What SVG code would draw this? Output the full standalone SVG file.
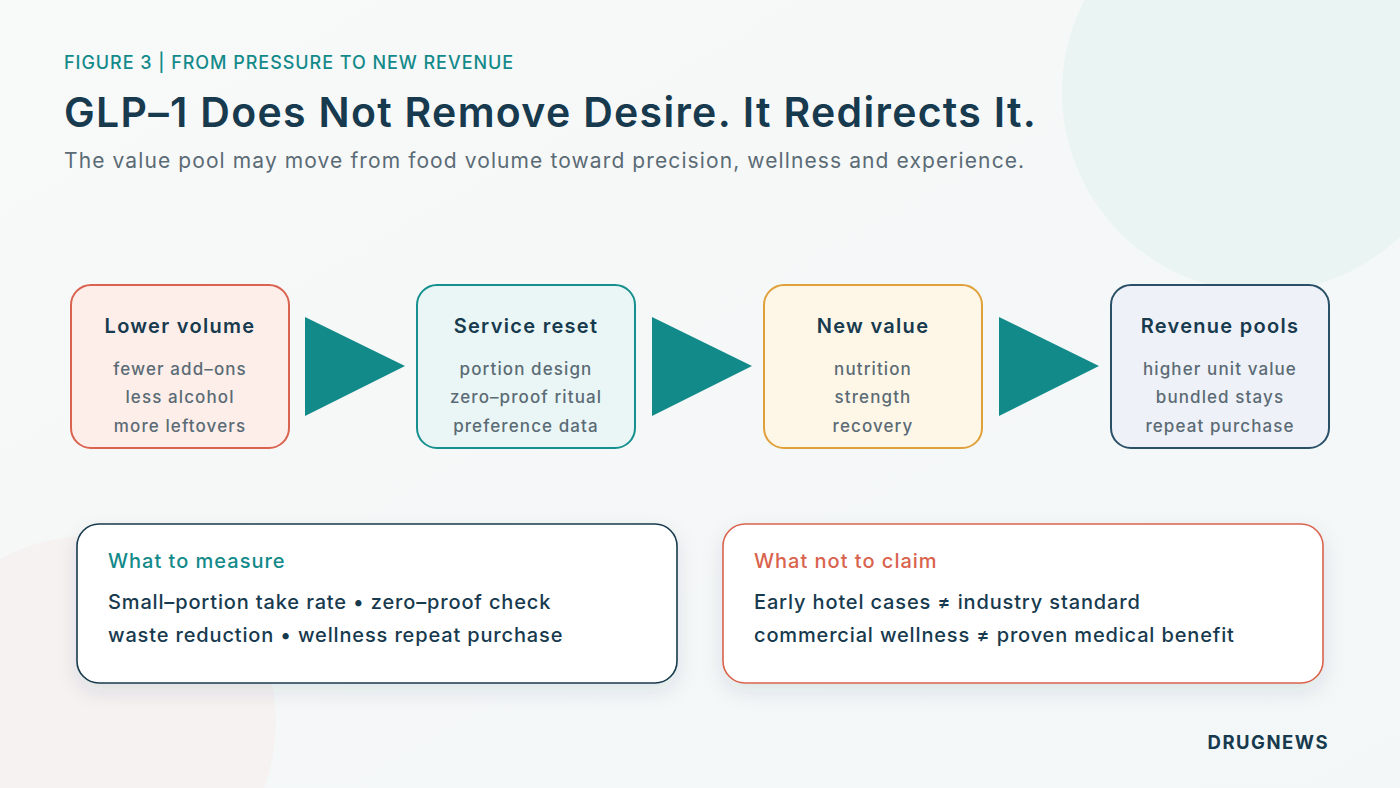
<svg xmlns="http://www.w3.org/2000/svg" width="1400" height="788" viewBox="0 0 1400 788">
<defs>
<linearGradient id="bg" x1="0" y1="0" x2="1" y2="1">
<stop offset="0" stop-color="#f8f9f9"/>
<stop offset="1" stop-color="#f3f7f7"/>
</linearGradient>
<filter id="sh" x="-10%" y="-20%" width="120%" height="150%">
<feDropShadow dx="0" dy="8" stdDeviation="10" flood-color="#1b3a4b" flood-opacity="0.10"/>
</filter>
<style>
.t{font-family:Inter,"Noto Sans","Liberation Sans",sans-serif}
.nt{font-size:20px;font-weight:600;fill:#173a4e;text-anchor:middle;letter-spacing:1.3px}
.ni{font-size:17px;font-weight:500;fill:#5b6b75;text-anchor:middle;letter-spacing:1.1px}
.bt{font-size:20px;font-weight:500;letter-spacing:1px}
.bl{font-size:20px;font-weight:500;fill:#173a4e;letter-spacing:0.85px}
.arr{fill:#128a8a}
</style>
</defs>
<rect width="1400" height="788" fill="url(#bg)"/>
<circle cx="1262" cy="92" r="200" fill="#e9f4f3"/>
<circle cx="90" cy="722" r="186" fill="#f5f2f1"/>

<text class="t" x="64" y="69" font-size="18" font-weight="500" fill="#138a8a" letter-spacing="0.95">FIGURE 3 | FROM PRESSURE TO NEW REVENUE</text>
<text class="t" x="64" y="127" font-size="41" font-weight="600" fill="#173a4e" letter-spacing="1.3">GLP–1 Does Not Remove Desire. It Redirects It.</text>
<text class="t" x="64" y="168" font-size="21" font-weight="400" fill="#5b6b75" letter-spacing="1.1">The value pool may move from food volume toward precision, wellness and experience.</text>

<g id="connectors">
<polygon class="arr" points="305,317 405,366 305,416"/>
<polygon class="arr" points="652,317 752,366 652,416"/>
<polygon class="arr" points="999,317 1099,366 999,416"/>
</g>

<g id="n1">
<rect x="71" y="285" width="218" height="163" rx="20" fill="#fdeeea" stroke="#d9634e" stroke-width="2"/>
<text class="t nt" x="180" y="333">Lower volume</text>
<text class="t ni" x="180" y="375">fewer add–ons</text>
<text class="t ni" x="180" y="403">less alcohol</text>
<text class="t ni" x="180" y="432">more leftovers</text>
</g>
<g id="n2">
<rect x="417" y="285" width="218" height="163" rx="20" fill="#eaf6f5" stroke="#16908f" stroke-width="2"/>
<text class="t nt" x="526" y="333">Service reset</text>
<text class="t ni" x="526" y="375">portion design</text>
<text class="t ni" x="526" y="403">zero–proof ritual</text>
<text class="t ni" x="526" y="432">preference data</text>
</g>
<g id="n3">
<rect x="764" y="285" width="218" height="163" rx="20" fill="#fef7e8" stroke="#e0a03a" stroke-width="2"/>
<text class="t nt" x="873" y="333">New value</text>
<text class="t ni" x="873" y="375">nutrition</text>
<text class="t ni" x="873" y="403">strength</text>
<text class="t ni" x="873" y="432">recovery</text>
</g>
<g id="n4">
<rect x="1111" y="285" width="218" height="163" rx="20" fill="#eef1f7" stroke="#2a5068" stroke-width="2"/>
<text class="t nt" x="1220" y="333">Revenue pools</text>
<text class="t ni" x="1220" y="375">higher unit value</text>
<text class="t ni" x="1220" y="403">bundled stays</text>
<text class="t ni" x="1220" y="432">repeat purchase</text>
</g>

<g id="measure">
<rect x="77" y="524" width="600" height="159" rx="22" fill="#ffffff" stroke="#173a4e" stroke-width="1.6" filter="url(#sh)"/>
<text class="t bt" x="108" y="568" fill="#138a8a">What to measure</text>
<text class="t bl" x="108" y="609">Small–portion take rate • zero–proof check</text>
<text class="t bl" x="108" y="642">waste reduction • wellness repeat purchase</text>
</g>
<g id="claim">
<rect x="723" y="524" width="600" height="159" rx="22" fill="#ffffff" stroke="#d9634e" stroke-width="1.6" filter="url(#sh)"/>
<text class="t bt" x="754" y="568" fill="#d9634e">What not to claim</text>
<text class="t bl" x="754" y="609">Early hotel cases ≠ industry standard</text>
<text class="t bl" x="754" y="642">commercial wellness ≠ proven medical benefit</text>
</g>

<text class="t" x="1329" y="749" font-size="18.5" font-weight="700" fill="#173a4e" text-anchor="end" letter-spacing="1.5">DRUGNEWS</text>
</svg>
